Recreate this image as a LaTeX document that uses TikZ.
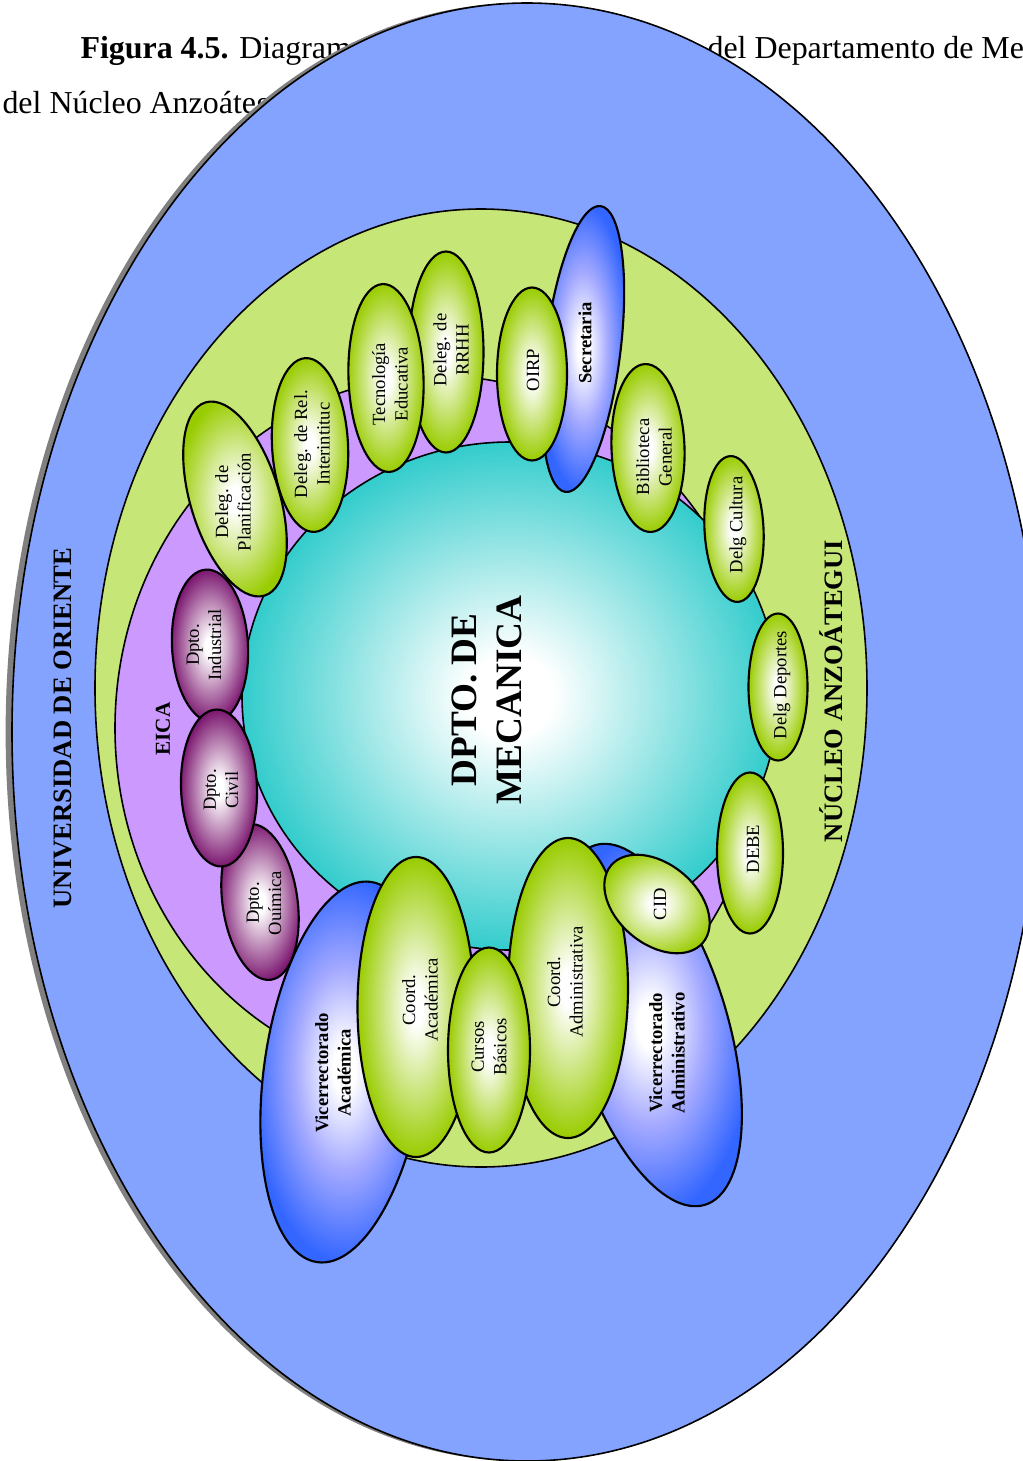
\documentclass[tikz,border=0pt]{standalone}
\usepackage{fontspec}
\setmainfont{Liberation Serif}
\usetikzlibrary{shapes.geometric,shadows}
\definecolor{ublue}{RGB}{132,163,255}
\definecolor{ngreen}{RGB}{198,230,120}
\definecolor{epurple}{RGB}{204,153,255}
\definecolor{dcyan}{RGB}{51,204,204}
\definecolor{kgreen}{RGB}{153,204,0}
\definecolor{kblue}{RGB}{51,102,255}
\definecolor{kblmid}{RGB}{165,170,255}
\definecolor{kpurp}{RGB}{122,20,110}
\pgfdeclareradialshading{gshade}{\pgfpoint{0bp}{0bp}}{color(0bp)=(white); color(3bp)=(white); color(25bp)=(kgreen); color(50bp)=(kgreen)}
\pgfdeclareradialshading{bshade}{\pgfpoint{0bp}{0bp}}{color(0bp)=(white); color(3bp)=(white); color(13bp)=(kblmid); color(25bp)=(kblue); color(50bp)=(kblue)}
\pgfdeclareradialshading{pshade}{\pgfpoint{0bp}{0bp}}{color(0bp)=(white); color(3bp)=(white); color(25bp)=(kpurp); color(50bp)=(kpurp)}
\pgfdeclareradialshading{cshade}{\pgfpoint{0bp}{0bp}}{color(0bp)=(white); color(4bp)=(white); color(25bp)=(dcyan); color(50bp)=(dcyan)}
\begin{document}
\begin{tikzpicture}[x=0.3759pt,y=-0.3759pt,
  ring/.style={ellipse, draw, line width=0.6pt, inner sep=0pt},
  knode/.style={ellipse, draw, line width=0.8pt, inner sep=0pt},
  gk/.style={knode, shading=gshade},
  bk/.style={knode, shading=bshade},
  pk/.style={knode, shading=pshade},
  sz/.style 2 args={minimum width=#1*0.3759pt, minimum height=#2*0.3759pt},
  lab/.style={rotate=90, align=center, inner sep=0pt, font=\fontsize{7}{8.4}\selectfont},
  blab/.style={lab, font=\fontsize{7}{8.4}\selectfont\bfseries},
  biglab/.style={lab, font=\fontsize{10}{12}\selectfont\bfseries},
  ttl/.style={anchor=base west, inner sep=0pt, font=\fontsize{12}{14}\selectfont}]

\useasboundingbox (0,0) rectangle (1023,1461);
\clip (0,0) rectangle (1023,1461);

% caption (partly hidden)
\node[ttl] (t1) at (80,58) {\textbf{Figura 4.5.} Diagrama};
\node[ttl] (t2) at (707,58) {del Departamento de Me};
\node[ttl] (t3) at (2,113) {del Núcleo Anzoáteg};

% nested regions
\node[ring, fill=ublue, sz={1030}{1458},
  drop shadow={shadow xshift=-2.4pt, shadow yshift=0pt, opacity=1, fill=black!50}] (univ) at (527,732) {};
\node[biglab] (univ-t) at (63,728) {UNIVERSIDAD DE ORIENTE};

\node[ring, fill=ngreen, sz={772}{958}] (nucleo) at (481,688) {};
\node[biglab] (nucleo-t) at (831,691) {NÚCLEO ANZOÁTEGUI};

\node[ring, fill=epurple, sz={650}{704}] (eica) at (440,728) {};
\node[lab, font=\fontsize{8}{9.6}\selectfont\bfseries] (eica-t) at (163,729) {EICA};

\node[ring, shading=cshade, sz={536}{508}] (dpto) at (510,696) {};
\node[lab, font=\fontsize{14}{17}\selectfont\bfseries] (dpto-t) at (487,700) {DPTO. DE\\MECANICA};

% blue units
\node[bk, sz={384}{160}, rotate=82] (vacad) at (344,1072) {};
\node[blab] (vacad-t) at (333,1073) {Vicerrectorado\\Académica};
\node[bk, sz={376}{154}, rotate=107] (vadm) at (650,1025) {};
\node[blab] (vadm-t) at (667,1053) {Vicerrectorado\\Administrativo};
\node[bk, sz={288}{75}, rotate=83] (secr) at (583,349) {};
\node[blab] (secr-t) at (585,343) {Secretaria};

% departments of EICA
\node[pk, sz={153}{76}, rotate=93] (dind) at (210,646) {};
\node[lab] (dind-t) at (204,645) {Dpto.\\Industrial};
\node[pk, sz={157}{75}, rotate=98] (dqui) at (260,902) {};
\node[lab] (dqui-t) at (264,903) {Dpto.\\Ouímica};
\node[pk, sz={157}{76}, rotate=92] (dciv) at (219,788) {};
\node[lab] (dciv-t) at (221,790) {Dpto.\\Civil};

% green units
\node[gk, sz={202}{89}, rotate=107] (plan) at (235,499) {};
\node[lab] (plan-t) at (233,502) {Deleg. de\\Planificación};
\node[gk, sz={174}{76}, rotate=93] (rel) at (310,445) {};
\node[lab] (rel-t) at (312,444) {Deleg. de Rel.\\Interintituc};
\node[gk, sz={201}{75}, rotate=90] (rrhh) at (446,352) {};
\node[lab] (rrhh-t) at (451,350) {Deleg. de\\RRHH};
\node[gk, sz={188}{75}, rotate=92] (tec) at (386,378) {};
\node[lab] (tec-t) at (390,384) {Tecnología\\Educativa};
\node[gk, sz={173}{70}, rotate=90] (oirp) at (532,374) {};
\node[lab] (oirp-t) at (533,370) {OIRP};
\node[gk, sz={168}{73}, rotate=92] (bib) at (648,448) {};
\node[lab] (bib-t) at (654,457) {Biblioteca\\General};
\node[gk, sz={146}{59}, rotate=93] (cult) at (734,529) {};
\node[lab] (cult-t) at (738,525) {Delg Cultura};
\node[gk, sz={147}{59}, rotate=90] (dep) at (778,687) {};
\node[lab] (dep-t) at (782,685) {Delg Deportes};
\node[gk, sz={161}{66}, rotate=90] (debe) at (750,853) {};
\node[lab] (debe-t) at (753,849) {DEBE};
\node[gk, sz={300}{117}, rotate=90] (cacad) at (416,1007) {};
\node[lab] (cacad-t) at (420,1000) {Coord.\\Académica};
\node[gk, sz={300}{120}, rotate=90] (cadm) at (568,988) {};
\node[lab] (cadm-t) at (565,982) {Coord.\\Administrativa};
\node[gk, sz={205}{82}, rotate=90] (cbas) at (489,1050) {};
\node[lab] (cbas-t) at (489,1047) {Cursos\\Básicos};
\node[gk, sz={120}{80}, rotate=-40] (cid) at (657,904) {};
\node[lab] (cid-t) at (660,904) {CID};
\end{tikzpicture}
\end{document}
